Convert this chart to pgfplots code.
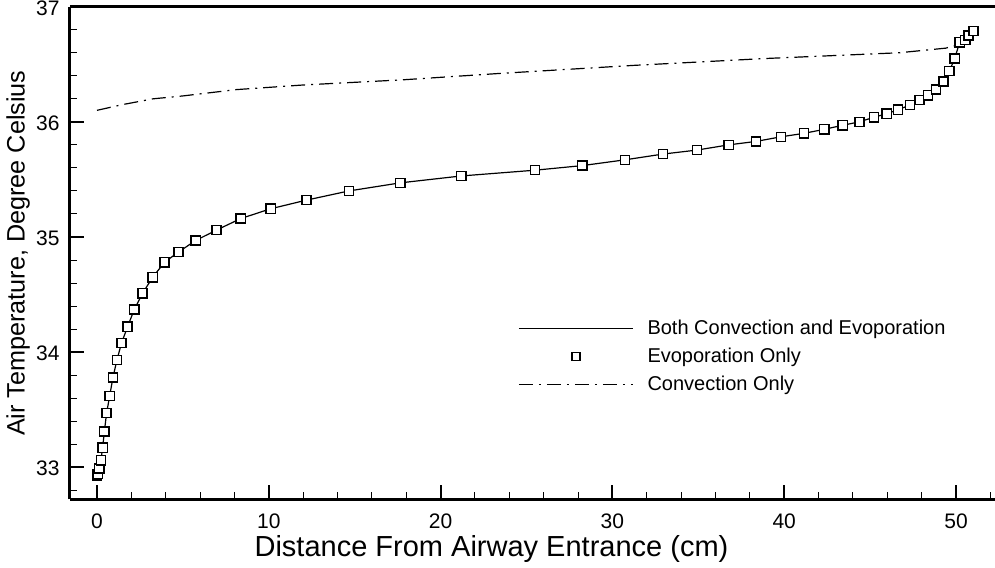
\documentclass[border=0pt]{standalone}
\usepackage{fontspec}
\setmainfont{Liberation Sans}
\usepackage{pgfplots}
\pgfplotsset{compat=1.18}

\pgfplotstableread{
x y
0.00 32.93
0.04 32.94
0.13 32.99
0.23 33.06
0.33 33.17
0.43 33.31
0.56 33.47
0.74 33.62
0.93 33.78
1.16 33.93
1.43 34.08
1.78 34.22
2.17 34.37
2.65 34.51
3.24 34.65
3.93 34.78
4.75 34.87
5.75 34.97
6.96 35.06
8.37 35.16
10.11 35.245
12.19 35.32
14.67 35.40
17.65 35.47
21.21 35.53
25.50 35.58
28.25 35.62
30.73 35.67
32.94 35.72
34.93 35.755
36.77 35.80
38.36 35.83
39.81 35.87
41.15 35.90
42.33 35.935
43.40 35.97
44.38 36.00
45.22 36.04
45.96 36.07
46.62 36.105
47.31 36.145
47.87 36.19
48.37 36.23
48.84 36.28
49.27 36.35
49.61 36.44
49.92 36.55
50.21 36.69
50.54 36.71
50.73 36.75
51.01 36.79
}\evap

\pgfplotstableread{
x y
0.00 36.10
1.50 36.15
3.27 36.20
5.00 36.225
8.12 36.28
12.00 36.32
17.80 36.365
23.40 36.42
31.20 36.49
38.90 36.55
46.70 36.60
49.40 36.64
49.90 36.66
50.26 36.70
50.54 36.71
50.73 36.75
51.01 36.79
}\conv

\pgfplotsset{
  lineleg/.style={legend image code/.code={\draw[##1] (0pt,0pt) -- (57pt,0pt);}},
  markleg/.style={legend image code/.code={\draw[##1, mark size=2pt] plot coordinates {(28.5pt,0pt)}; \path (0pt,0pt) (57pt,0pt);}},
}

\begin{document}
\begin{tikzpicture}
\begin{axis}[
  scale only axis,
  width=463.3pt, height=246.4pt,
  xmin=-1.57, xmax=52.36,
  ymin=32.72, ymax=37.0,
  axis x line*=box, axis y line*=left,
  xtick={0,10,...,60}, ytick={32,33,...,37},
  minor x tick num=4, minor y tick num=4,
  tick pos=left, tick align=inside,
  major tick length=7pt, minor tick length=3.5pt,
  every major tick/.style={line width=1pt, black},
  every minor tick/.style={line width=0.5pt, black},
  axis line style={line width=1.5pt, -},
  /pgf/number format/assume math mode=true,
  ticklabel style={font=\fontsize{10.5}{12}\selectfont, inner sep=0pt},
  yticklabel style={xshift=-5pt, yshift=-0.7pt},
  xticklabel style={yshift=-6.8pt},
  xlabel={Distance From Airway Entrance (cm)},
  ylabel={Air Temperature, Degree Celsius},
  every axis x label/.style={at={(rel axis cs:0.4549,0)}, anchor=center, yshift=-24.6pt, inner sep=0pt, font=\fontsize{14.5}{16}\selectfont},
  every axis y label/.style={at={(rel axis cs:0,0.5)}, xshift=-26pt, rotate=90, anchor=center, inner sep=0pt, font=\fontsize{12.6}{14}\selectfont},
  legend style={draw=none, fill=none, font=\fontsize{10}{12}\selectfont,
    at={(axis cs:24.5,33.96)}, anchor=west, inner sep=0pt,
    row sep=4.5pt, column sep=7pt,
    nodes={inner sep=0pt, text height=7.5pt, text depth=2pt}},
  legend cell align=left,
]
\addplot[black, line width=0.6pt, no marks, lineleg]
  table[x=x,y=y] {\evap};
\addlegendentry{Both Convection and Evoporation}
\addplot[only marks, mark=square*, mark size=2.3pt,
  mark options={fill=white, draw=black, line width=0.7pt}, markleg]
  table[x=x,y=y] {\evap};
\addlegendentry{Evoporation Only}
\addplot[black, line width=0.6pt, no marks,
  dash pattern=on 7pt off 3pt on 1pt off 3pt, lineleg]
  table[x=x,y=y] {\conv};
\addlegendentry{Convection Only}
\end{axis}
\pgfresetboundingbox
\path ([shift={(-35pt,-34.15pt)}]current axis.south west) rectangle ([shift={(-0.8pt,3.35pt)}]current axis.north east);
\end{tikzpicture}
\end{document}
